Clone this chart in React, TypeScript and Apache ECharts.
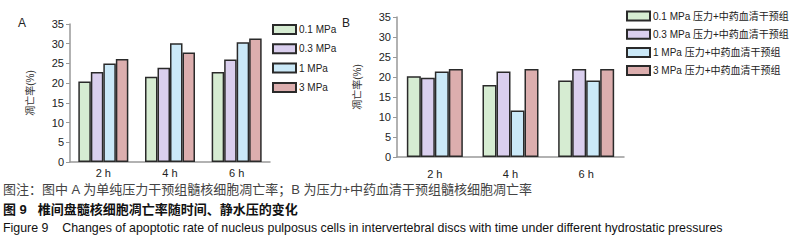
import React, { useEffect, useRef } from "react";
import * as echarts from "echarts";

const categories = ["2 h", "4 h", "6 h"];
const legendA = ["0.1 MPa", "0.3 MPa", "1 MPa", "3 MPa"];
const legendB = [
  "0.1 MPa 压力+中药血清干预组",
  "0.3 MPa 压力+中药血清干预组",
  "1 MPa 压力+中药血清干预组",
  "3 MPa 压力+中药血清干预组",
];
const valuesA = [
  [20.4, 21.6, 22.8],
  [22.8, 23.9, 26.0],
  [25.0, 30.1, 30.4],
  [26.1, 27.8, 31.3],
];
const valuesB = [
  [20.2, 18.0, 19.1],
  [19.8, 21.4, 22.0],
  [21.4, 11.6, 19.1],
  [22.0, 22.0, 22.0],
];
const yTicks = [0, 5, 10, 15, 20, 25, 30, 35];
const yName = "凋亡率(%)";
const caption1 = "图注：图中 A 为单纯压力干预组髓核细胞凋亡率；B 为压力+中药血清干预组髓核细胞凋亡率";
const caption2 = "图 9   椎间盘髓核细胞凋亡率随时间、静水压的变化";
const caption3 =
  "Figure 9    Changes of apoptotic rate of nucleus pulposus cells in intervertebral discs with time under different hydrostatic pressures";

const colors = ["#d6ecd2", "#dacfee", "#cbe9f8", "#dcaeae"];
const FONT = "Liberation Sans, Arial, sans-serif";
const CJK = "Liberation Sans, 'Noto Sans CJK SC', sans-serif";

export default function App() {
  const ref = useRef<HTMLDivElement>(null);
  useEffect(() => {
    document.body.style.margin = "0";
    const chart = echarts.init(ref.current!, undefined, { renderer: "svg" });
    const axisColor = "#999";
    const mkX = (gi: number) => ({
      type: "category" as const,
      gridIndex: gi,
      data: categories,
      axisLine: { lineStyle: { color: axisColor, width: 1.5 } },
      axisTick: { lineStyle: { color: axisColor }, length: 4 },
      axisLabel: { color: "#222", fontSize: 11, fontFamily: FONT, margin: gi === 0 ? 5 : 11 },
    });
    const mkY = (gi: number) => ({
      type: "value" as const,
      gridIndex: gi,
      min: yTicks[0],
      max: yTicks[yTicks.length - 1],
      interval: yTicks[1] - yTicks[0],
      splitLine: { show: false },
      axisLine: { show: true, lineStyle: { color: axisColor, width: 1.5 } },
      axisTick: { show: true, lineStyle: { color: axisColor }, length: 4 },
      axisLabel: { color: "#222", fontSize: 11, fontFamily: FONT, margin: 6 },
      name: yName,
      nameLocation: "middle" as const,
      nameGap: 35,
      nameTextStyle: { color: "#333", fontSize: 10, fontFamily: CJK },
    });
    const mkSeries = (names: string[], vals: number[][], gi: number) =>
      names.map((n, i) => ({
        type: "bar" as const,
        name: n,
        xAxisIndex: gi,
        yAxisIndex: gi,
        data: vals[i],
        barGap: "0%",
        barCategoryGap: gi === 0 ? "25%" : "26%",
        itemStyle: { color: colors[i], borderColor: "#2a2a2a", borderWidth: 1.5 },
      }));
    chart.setOption({
      animation: false,
      grid: [
        { left: 70, top: 24, width: 200, height: 138 },
        { left: 397, top: 17, width: 227, height: 140 },
      ],
      xAxis: [mkX(0), mkX(1)],
      yAxis: [mkY(0), mkY(1)],
      legend: [
        {
          data: legendA,
          orient: "vertical",
          left: 267,
          top: 19,
          itemWidth: 23,
          itemHeight: 9,
          itemGap: 8.3,
          icon: "rect",
          textStyle: { fontSize: 10, color: "#222", fontFamily: FONT, padding: [0, 0, 0, -2] },
        },
        {
          data: legendB,
          orient: "vertical",
          left: 621,
          top: 5.5,
          itemWidth: 23,
          itemHeight: 9,
          itemGap: 7.2,
          icon: "rect",
          textStyle: { fontSize: 10, color: "#222", fontFamily: CJK, padding: [0, 0, 0, -2] },
        },
      ],
      series: [...mkSeries(legendA, valuesA, 0), ...mkSeries(legendB, valuesB, 1)],
      graphic: [
        { type: "text", left: 18, top: 17, style: { text: "A", fontSize: 12, fill: "#222", fontFamily: FONT } },
        { type: "text", left: 342, top: 17, style: { text: "B", fontSize: 12, fill: "#222", fontFamily: FONT } },
        { type: "text", left: 3, top: 183, style: { text: caption1, fontSize: 13, fill: "#444", fontFamily: CJK } },
        { type: "text", left: 3, top: 203, style: { text: caption2, fontSize: 13, fill: "#111", fontWeight: 600, fontFamily: CJK } },
        { type: "text", left: 3, top: 222, style: { text: caption3, fontSize: 12.4, fill: "#111", fontFamily: FONT } },
      ],
    });
    return () => chart.dispose();
  }, []);
  return <div ref={ref} style={{ position: "absolute", left: 0, top: 0, width: 795, height: 242, background: "#fff" }} />;
}
